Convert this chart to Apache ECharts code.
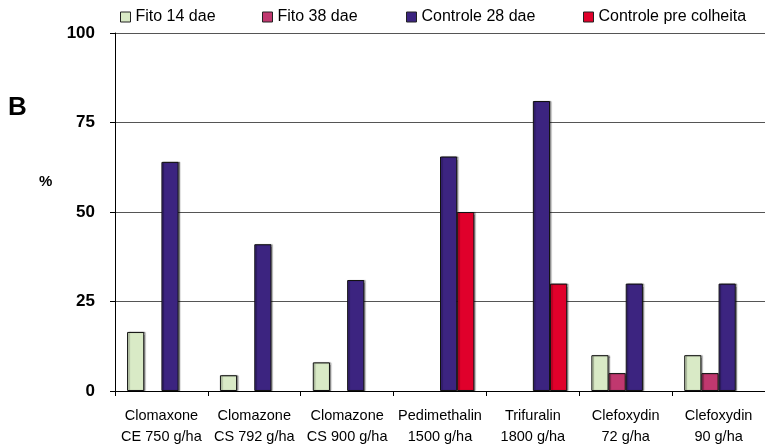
<!DOCTYPE html>
<html><head><meta charset="utf-8">
<script src="https://cdn.jsdelivr.net/npm/echarts@6/dist/echarts.min.js"></script>
<style>html,body{margin:0;padding:0;background:#fff}#c{width:765px;height:448px}</style>
</head><body><div id="c"></div>
<script>
const categories = ['Clomaxone\nCE 750 g/ha','Clomazone\nCS 792 g/ha','Clomazone\nCS 900 g/ha','Pedimethalin\n1500 g/ha','Trifuralin\n1800 g/ha','Clefoxydin\n72 g/ha','Clefoxydin\n90 g/ha'];
const seriesNames = ['Fito 14 dae','Fito 38 dae','Controle 28 dae','Controle pre colheita'];
const fito14 = [16.5, 4.4, 8, null, null, 10, 10];
const fito38 = [null, null, null, null, null, 5, 5];
const controle28 = [64, 41, 31, 65.5, 81, 30, 30];
const controlePre = [null, null, null, 50, 30, null, null];
const yTicks = [0, 25, 50, 75, 100];

const colors = ['#d9eac6','#c0386f','#3c2480','#e0002b'];
const font = '"Liberation Sans Narrow","Arial Narrow","Liberation Sans",sans-serif';
const data = [fito14, fito38, controle28, controlePre];
const legendLefts = [120, 262, 406, 583];

const chart = echarts.init(document.getElementById('c'), null, {renderer:'canvas'});
chart.setOption({
  animation:false,
  backgroundColor:'#fff',
  textStyle:{fontFamily:font},
  legend:seriesNames.map((n,i)=>({
    left:legendLefts[i], top:9, itemWidth:10, itemHeight:10, itemGap:0,
    icon:'rect', padding:0,
    textStyle:{fontFamily:font, fontSize:16, color:'#000'},
    data:[{name:n, itemStyle:{color:colors[i], borderColor:'#222', borderWidth:1}}]
  })),
  graphic:[
    {type:'text', left:8, top:95, style:{text:'B', font:'bold 26px '+font, fill:'#000'}},
    {type:'text', left:39, top:174, style:{text:'%', font:'bold 15px '+font, fill:'#000'}}
  ],
  grid:{left:115, right:0, top:33, bottom:57, containLabel:false},
  xAxis:{
    type:'category', data:categories,
    axisLine:{lineStyle:{color:'#000', width:1}},
    axisTick:{show:true, length:5, lineStyle:{color:'#000'}},
    axisLabel:{fontFamily:font, fontSize:14.5, color:'#000', lineHeight:21, margin:14, interval:0}
  },
  yAxis:{
    type:'value', min:0, max:100, interval:25,
    axisLine:{show:true, lineStyle:{color:'#000', width:1}},
    axisTick:{show:true, length:5, lineStyle:{color:'#000'}},
    axisLabel:{fontFamily:font, fontSize:17, fontWeight:'bold', color:'#000', margin:20,
      formatter:v=>yTicks.includes(v)?String(v):''},
    splitLine:{show:true, lineStyle:{color:'#555', width:1}}
  },
  series:seriesNames.map((n,i)=>({
    name:n, type:'bar', data:data[i],
    barGap:'0%', barCategoryGap:'26%',
    itemStyle:{color:colors[i], borderColor:'#111', borderWidth:1,
      shadowColor:'rgba(0,0,0,0.35)', shadowOffsetX:1.5, shadowOffsetY:0, shadowBlur:1}
  }))
});
</script></body></html>
